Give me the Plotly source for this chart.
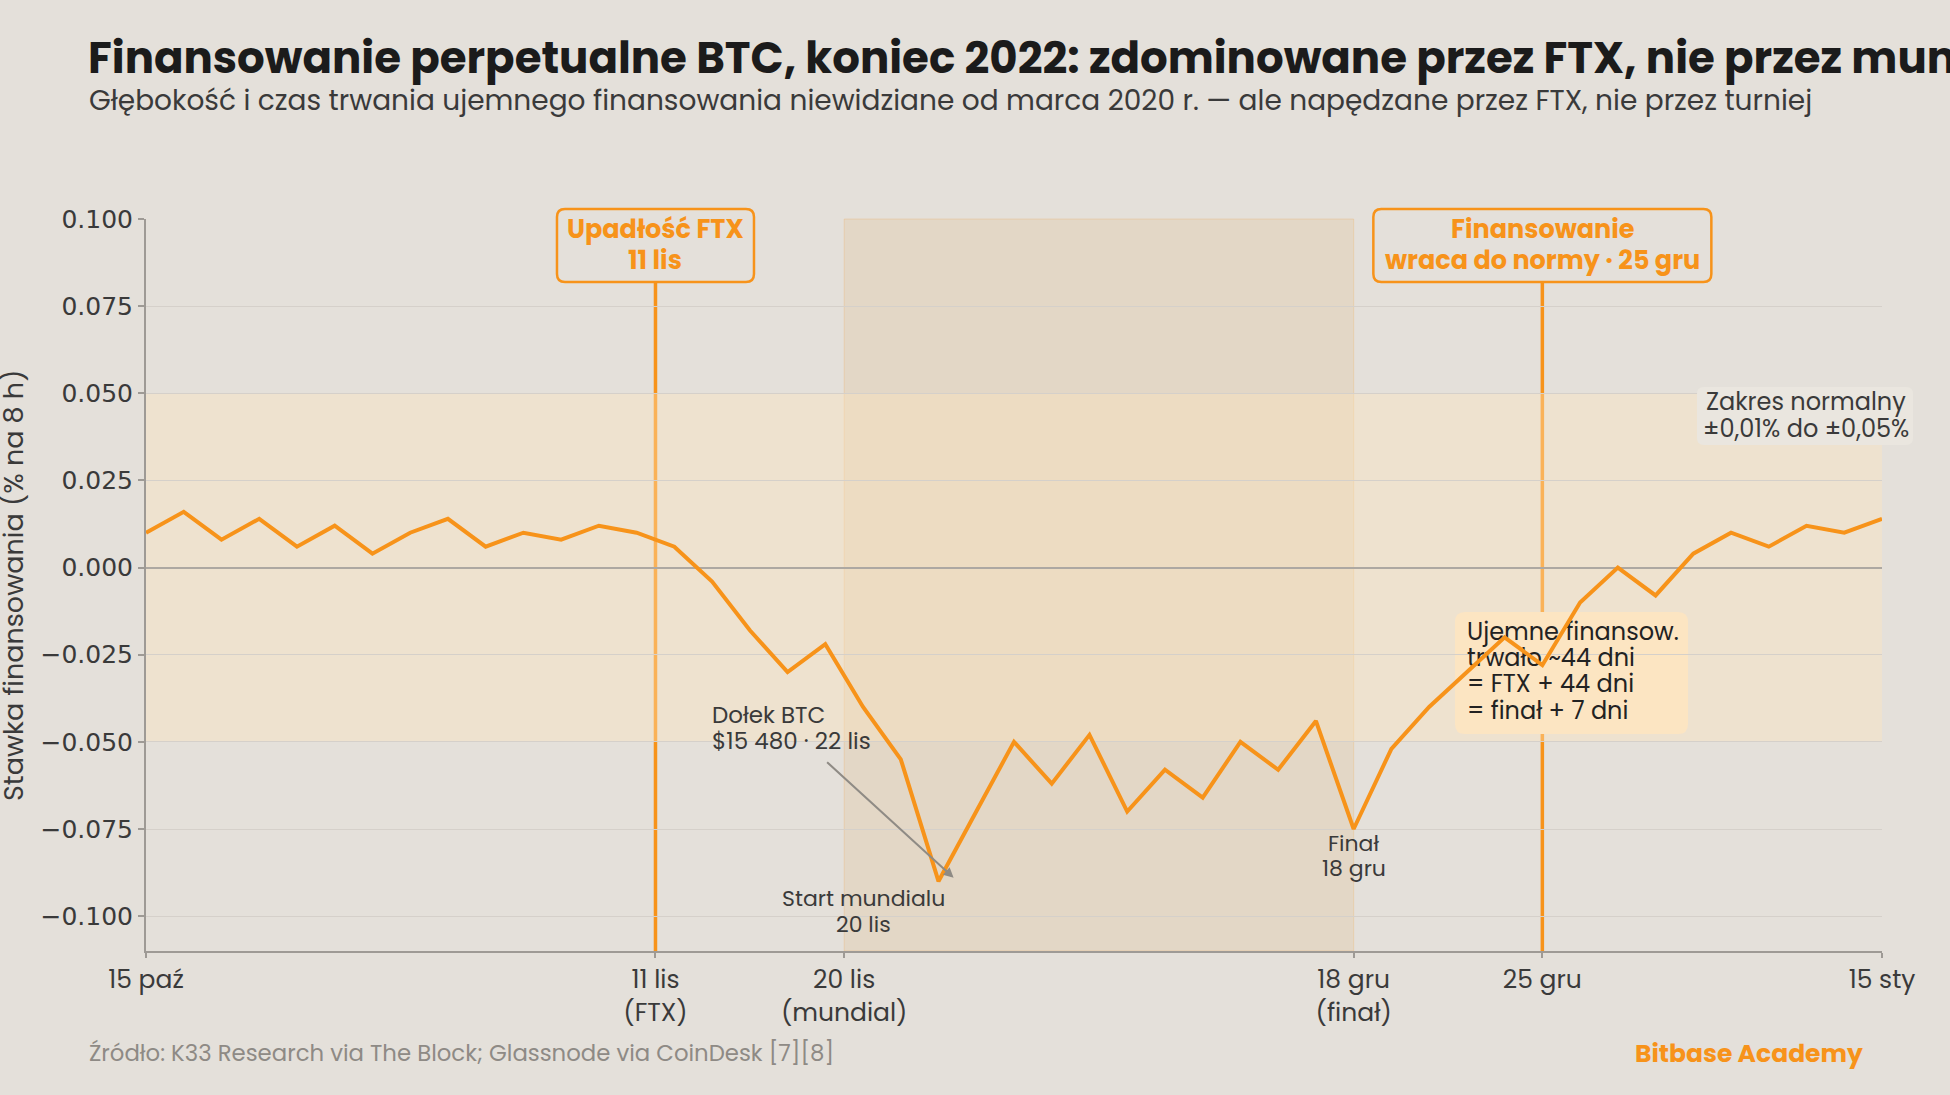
import pandas as pd
import plotly.graph_objects as go

# ---------------- data ----------------
START = "2022-10-15"
DATES = pd.date_range(START, periods=47, freq="2D")
FUNDING = [0.010, 0.016, 0.008, 0.014, 0.006, 0.012, 0.004, 0.010, 0.014, 0.006,
           0.010, 0.008, 0.012, 0.010, 0.006, -0.004, -0.018, -0.030, -0.022, -0.040,
           -0.055, -0.090, -0.070, -0.050, -0.062, -0.048, -0.070, -0.058, -0.066, -0.050,
           -0.058, -0.044, -0.075, -0.052, -0.040, -0.030, -0.020, -0.028, -0.010, 0.000,
           -0.008, 0.004, 0.010, 0.006, 0.012, 0.010, 0.014]
DAYS = [(d - pd.Timestamp(START)).days for d in DATES]

TICK_DAYS = [0, 27, 37, 64, 74, 92]
TICK_LABELS = ["15 paź", "11 lis<br>(FTX)", "20 lis<br>(mundial)", "18 gru<br>(finał)", "25 gru", "15 sty"]
Y_TICKS = [-0.100, -0.075, -0.050, -0.025, 0.000, 0.025, 0.050, 0.075, 0.100]

FTX_DAY = 27
WC_START_DAY = 37
WC_FINAL_DAY = 64
NORMAL_DAY = 74
NORMAL_BAND = (-0.05, 0.05)

TITLE = "Finansowanie perpetualne BTC, koniec 2022: zdominowane przez FTX, nie przez mundial"
SUBTITLE = ("Głębokość i czas trwania ujemnego finansowania niewidziane od marca 2020 r. — "
            "ale napędzane przez FTX, nie przez turniej")
SOURCE = "Źródło: K33 Research via The Block; Glassnode via CoinDesk [7][8]"
BRAND = "Bitbase Academy"
FTX_LABEL = ["Upadłość FTX", "11 lis"]
NORMAL_LABEL = ["Finansowanie", "wraca do normy · 25 gru"]
RANGE_LABEL = ["Zakres normalny", "±0,01% do ±0,05%"]
NEG_LABEL = ["Ujemne finansow.", "trwało ~44 dni", "= FTX + 44 dni", "= finał + 7 dni"]
BOTTOM_LABEL = ["Dołek BTC", "$15 480 · 22 lis"]
WC_LABEL = ["Start mundialu", "20 lis"]
FINAL_LABEL = ["Finał", "18 gru"]

# ---------------- geometry / style ----------------
W_FIG, H_FIG = 1950, 1095
L, R, T, B = 146, 1882, 219, 951
PW, PH = R - L, B - T
X_RANGE = [0, 92]
Y_RANGE = [-0.11, 0.10]

BG = "#E4E0DA"
ORANGE = "#F7931A"
FONT = "Poppins, 'Open Sans', sans-serif"
DARK = "#3a3a3a"


def px_x(day):
    return L + (day - X_RANGE[0]) / (X_RANGE[1] - X_RANGE[0]) * PW


def day_of_px(px):
    return X_RANGE[0] + (px - L) / PW * (X_RANGE[1] - X_RANGE[0])


def val_of_py(py):
    return Y_RANGE[1] - (py - T) / PH * (Y_RANGE[1] - Y_RANGE[0])


def pap_x(px):
    return (px - L) / PW


def pap_y(py):
    return (B - py) / PH


def rbox_path(x0, y0, x1, y1, r):
    pts = [("M", x0 + r, y0), ("L", x1 - r, y0), ("Q", x1, y0, x1, y0 + r),
           ("L", x1, y1 - r), ("Q", x1, y1, x1 - r, y1), ("L", x0 + r, y1),
           ("Q", x0, y1, x0, y1 - r), ("L", x0, y0 + r), ("Q", x0, y0, x0 + r, y0)]
    out = []
    for p in pts:
        cmd, coords = p[0], p[1:]
        cs = []
        for i in range(0, len(coords), 2):
            cs.append(f"{pap_x(coords[i]):.5f},{pap_y(coords[i + 1]):.5f}")
        out.append(cmd + " " + " ".join(cs))
    return " ".join(out) + " Z"


fig = go.Figure()

# text of the "negative funding" box (drawn under the line)
NEG_LINE_PY = [633.5, 659.6, 685.7, 713.1]
fig.add_trace(go.Scatter(
    x=[day_of_px(1467)] * len(NEG_LABEL), y=[val_of_py(p) for p in NEG_LINE_PY], mode="text",
    text=NEG_LABEL, textposition="middle right",
    textfont=dict(family=FONT, size=24, color="#222222"),
    hoverinfo="skip", showlegend=False, cliponaxis=False))

fig.add_trace(go.Scatter(
    x=DAYS, y=FUNDING, mode="lines",
    line=dict(color=ORANGE, width=4),
    showlegend=False, cliponaxis=False))

shapes = []
shapes.append(dict(type="rect", xref="x", yref="y", x0=X_RANGE[0], x1=X_RANGE[1],
                   y0=NORMAL_BAND[0], y1=NORMAL_BAND[1],
                   fillcolor="rgba(255,228,190,0.38)", line=dict(width=0), layer="below"))
shapes.append(dict(type="rect", xref="x", yref="paper", x0=WC_START_DAY, x1=WC_FINAL_DAY,
                   y0=0, y1=1, fillcolor="rgba(222,165,90,0.15)",
                   line=dict(width=1, color="rgba(247,147,26,0.18)"), layer="below"))
for d in (FTX_DAY, NORMAL_DAY):
    shapes.append(dict(type="line", xref="x", yref="paper", x0=d, x1=d, y0=0, y1=pap_y(270),
                       line=dict(color=ORANGE, width=3.5), layer="between"))
shapes.append(dict(type="path", xref="paper", yref="paper",
                   path=rbox_path(1455, 612, 1688, 734, 10),
                   fillcolor="#FBE5C6", line=dict(width=0), layer="between"))
for d, w in ((FTX_DAY, 197), (NORMAL_DAY, 338)):
    cx = px_x(d)
    shapes.append(dict(type="path", xref="paper", yref="paper",
                       path=rbox_path(cx - w / 2, 209, cx + w / 2, 282, 8),
                       fillcolor=BG, line=dict(color=ORANGE, width=2.5), layer="above"))
shapes.append(dict(type="path", xref="paper", yref="paper",
                   path=rbox_path(1697, 387, 1913, 445, 7),
                   fillcolor="#EAE6DF", line=dict(width=0), layer="above"))

annotations = []


def txt(px, py, text, size, color=DARK, anchor="center", bold=False, angle=0):
    annotations.append(dict(xref="paper", yref="paper", x=pap_x(px), y=pap_y(py),
                            xanchor=anchor, yanchor="middle", showarrow=False, textangle=angle,
                            text=f"<b>{text}</b>" if bold else text,
                            font=dict(family=FONT, size=size, color=color)))


txt(86, 57, TITLE, 43.5, color="#1b1b1b", anchor="left", bold=True)
txt(87, 101, SUBTITLE, 28, anchor="left")
txt(13, 586, "Stawka finansowania (% na 8 h)", 27, angle=-90)
txt(87, 1053, SOURCE, 22.8, color="#8e8a85", anchor="left")
txt(1865, 1053, BRAND, 25, color=ORANGE, anchor="right", bold=True)

for d, lines in ((FTX_DAY, FTX_LABEL), (NORMAL_DAY, NORMAL_LABEL)):
    for py, line in zip((228.5, 259.5), lines):
        txt(px_x(d), py, line, 25.5, color=ORANGE, bold=True)

for py, line in zip((401, 428.5), RANGE_LABEL):
    txt(1806, py, line, 24)

for py, line in zip((715, 741), BOTTOM_LABEL):
    txt(710, py, line, 23, anchor="left")

for py, line in zip((898, 924), WC_LABEL):
    txt(px_x(WC_START_DAY + 1), py, line, 22)

for py, line in zip((843, 868), FINAL_LABEL):
    txt(px_x(WC_FINAL_DAY), py, line, 22)

# arrow to the BTC bottom
annotations.append(dict(xref="x", yref="y", x=42.8, y=-0.089,
                        ax=-128, ay=-117, axref="pixel", ayref="pixel",
                        showarrow=True, arrowhead=2, arrowsize=1, arrowwidth=2,
                        arrowcolor="#8f8b85", text=""))

AXIS_COLOR = "#9e9a95"
fig.update_layout(
    width=W_FIG, height=H_FIG,
    margin=dict(l=L, r=W_FIG - R, t=T, b=H_FIG - B, pad=0),
    paper_bgcolor=BG, plot_bgcolor=BG,
    font=dict(family=FONT, color=DARK),
    shapes=shapes, annotations=annotations,
    xaxis=dict(range=X_RANGE, tickvals=TICK_DAYS, ticktext=TICK_LABELS,
               showgrid=False, zeroline=False, showline=True, linecolor=AXIS_COLOR, linewidth=2,
               ticks="outside", ticklen=5, tickwidth=1.5, tickcolor=AXIS_COLOR,
               tickfont=dict(family=FONT, size=25, color=DARK)),
    yaxis=dict(range=Y_RANGE, tickvals=Y_TICKS, tickformat=".3f",
               showgrid=True, gridcolor="#D5D0CA", gridwidth=1,
               zeroline=True, zerolinecolor="#ADA8A2", zerolinewidth=2,
               showline=True, linecolor=AXIS_COLOR, linewidth=2,
               ticks="outside", ticklen=6, tickwidth=1.5, tickcolor=AXIS_COLOR,
               tickfont=dict(family="DejaVu Sans", size=25, color=DARK)),
    hovermode=False,
)

fig.write_html("out.html")
